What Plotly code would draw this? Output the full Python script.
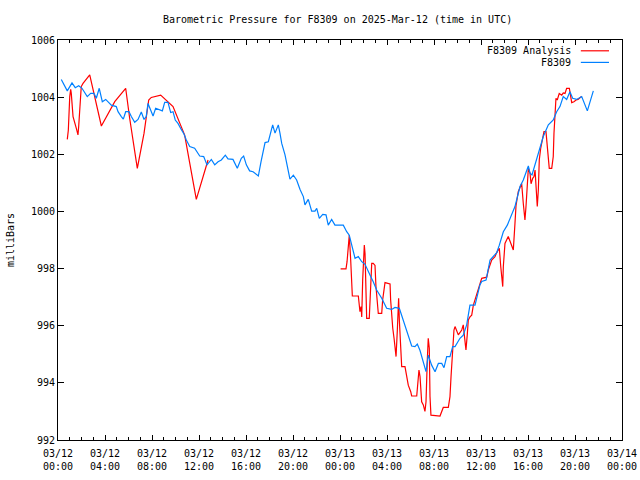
import pandas as pd
import plotly.graph_objects as go

START = pd.Timestamp("2025-03-12 00:00")

# F8309 observed (blue) : hours since 2025-03-12 00:00 UTC, pressure (mb)
obs_hours = [0.28, 0.79, 1.19, 1.47, 1.76, 2.04, 2.49, 2.78, 3.06, 3.26, 3.51, 3.77, 4.06, 4.54, 4.96,
             5.11, 5.39, 5.56, 5.76, 6.04, 6.24, 6.53, 6.81, 7.09, 7.32, 7.51, 7.66, 7.86, 8.09, 8.31,
             8.66, 8.88, 9.08, 9.36, 9.59, 9.79, 9.98, 10.21, 10.49, 10.72, 10.92, 11.21, 11.63, 12.06,
             12.40, 12.68, 13.05, 13.34, 13.62, 13.90, 14.24, 14.47, 14.89, 15.26, 15.60, 15.80, 16.03,
             16.31, 16.60, 16.96, 17.05, 17.28, 17.47, 17.62, 17.90, 18.04, 18.27, 18.47, 18.75, 18.89,
             19.04, 19.32, 19.51, 19.74, 20.03, 20.31, 20.60, 20.88, 21.02, 21.30, 21.59, 21.87, 22.02,
             22.24, 22.53, 22.81, 23.00, 23.29, 23.57, 24.28, 24.57, 24.79, 25.00, 25.28, 25.56, 25.85,
             26.13, 26.27, 26.61, 26.83, 27.12, 27.55, 27.97, 28.40, 28.68, 29.05, 29.34, 29.73, 30.10,
             30.38, 30.58, 30.81, 31.04, 31.32, 31.51, 31.80, 32.09, 32.37, 32.66, 32.85, 33.08, 33.36,
             33.59, 33.79, 34.21, 34.49, 34.78, 35.06, 35.49, 35.63, 35.91, 36.06, 36.43, 36.77, 37.05,
             37.34, 37.56, 37.90, 38.24, 38.61, 38.89, 39.32, 39.60, 40.03, 40.17, 40.34, 40.68, 41.02,
             41.30, 41.73, 42.15, 42.44, 42.72, 43.00, 43.29, 43.57, 43.80, 44.14, 44.57, 45.05, 45.34,
             45.56]
obs_mb = [1004.62, 1004.22, 1004.50, 1004.33, 1004.40, 1004.31, 1004.02, 1004.13, 1004.13, 1003.96,
          1004.31, 1003.84, 1003.92, 1003.72, 1003.67, 1003.49, 1003.32, 1003.23, 1003.49, 1003.49,
          1003.32, 1003.12, 1003.22, 1003.48, 1003.22, 1003.32, 1003.78, 1003.55, 1003.34, 1003.61,
          1003.57, 1003.52, 1003.82, 1003.82, 1003.46, 1003.49, 1003.20, 1003.08, 1002.87, 1002.71,
          1002.50, 1002.27, 1002.21, 1001.94, 1001.92, 1001.63, 1001.82, 1001.63, 1001.74, 1001.80,
          1001.97, 1001.84, 1001.82, 1001.51, 1001.86, 1001.94, 1001.63, 1001.42, 1001.39, 1001.26,
          1001.24, 1001.74, 1002.15, 1002.41, 1002.44, 1002.68, 1003.03, 1002.74, 1003.03, 1002.74,
          1002.38, 1001.98, 1001.56, 1001.13, 1001.27, 1001.10, 1000.77, 1000.52, 1000.23, 1000.42,
          1000.01, 1000.01, 1000.11, 999.76, 999.90, 999.88, 999.52, 999.72, 999.52, 999.52,
          999.29, 999.17, 998.82, 998.36, 998.42, 998.24, 998.15, 998.01, 997.72, 997.54,
          997.25, 996.96, 996.61, 996.57, 996.64, 996.61, 996.26, 995.79, 995.29, 995.27,
          995.36, 995.13, 994.80, 994.39, 994.97, 994.62, 994.39, 994.68, 994.68, 994.53,
          994.92, 994.92, 995.27, 995.27, 995.56, 995.67, 996.03, 996.72, 996.72, 996.96,
          997.43, 997.55, 997.60, 998.30, 998.42, 998.56, 998.82, 999.29, 999.52, 999.93,
          1000.17, 1000.87, 1001.10, 1001.59, 1001.34, 1001.28, 1001.74, 1002.27, 1002.62, 1003.03,
          1003.20, 1003.49, 1003.67, 1004.02, 1003.92, 1004.19, 1003.96, 1003.92, 1004.02, 1003.52,
          1003.90, 1004.22]

# F8309 Analysis (red); None marks the data gap
ana_hours = [0.79, 0.88, 1.00, 1.08, 1.13, 1.28, 1.56, 1.70, 1.76, 1.85, 1.98, 2.13, 2.70, 3.69, 4.83,
             5.76, 6.10, 6.75, 7.32, 7.72, 7.94, 8.74, 9.79, 10.78, 11.77, 12.77, 18.00,
             24.05, 24.51, 24.60, 24.71, 24.79, 24.91, 25.00, 25.05, 25.56, 25.64, 25.70, 25.79, 25.85,
             25.93, 25.98, 26.07, 26.13, 26.21, 26.27, 26.49, 26.55, 26.61, 26.70, 26.83, 26.98, 27.06,
             27.17, 27.26, 27.55, 27.63, 27.83, 28.11, 28.26, 28.31, 28.40, 28.49, 28.60, 28.68, 28.77,
             28.88, 28.99, 29.05, 29.17, 29.25, 29.53, 29.62, 29.73, 29.81, 30.02, 30.10, 30.53, 30.61,
             30.72, 30.81, 30.95, 31.09, 31.23, 31.32, 31.38, 31.43, 31.51, 31.60, 31.66, 31.74, 32.51,
             32.66, 32.79, 33.22, 33.36, 33.45, 33.59, 33.70, 33.79, 33.93, 34.07, 34.36, 34.49, 34.58,
             34.72, 34.83, 34.92, 35.06, 35.21, 35.35, 35.63, 35.77, 35.91, 36.06, 36.49, 36.62, 36.91,
             37.19, 37.34, 37.56, 37.68, 37.76, 37.85, 37.90, 38.04, 38.32, 38.61, 38.75, 38.89, 38.98,
             39.17, 39.32, 39.46, 39.60, 39.74, 39.83, 39.94, 40.03, 40.17, 40.26, 40.40, 40.51, 40.60,
             40.68, 40.79, 40.88, 40.96, 41.08, 41.25, 41.36, 41.53, 41.64, 41.81, 42.02, 42.15, 42.21,
             42.30, 42.38, 42.49, 42.66, 42.87, 43.00, 43.15, 43.29, 43.52, 43.63, 43.72, 43.91, 44.09,
             44.26, 44.55]
ana_mb = [1002.52, 1002.85, 1004.02, 1004.27, 1004.13, 1003.32, 1002.91, 1002.68, 1002.97, 1003.55,
          1004.37, 1004.48, 1004.78, 1002.99, 1003.84, 1004.31, 1003.26, 1001.51, 1002.73, 1003.90,
          1003.99, 1004.07, 1003.67, 1002.67, 1000.42, 1001.80, None,
          997.99, 997.99, 998.24, 998.82, 999.17, 998.30, 997.43, 997.04, 997.04, 996.79,
          996.49, 996.67, 996.31, 997.60, 998.18, 998.82, 998.53, 997.48, 996.26, 996.26,
          996.84, 997.37, 998.18, 998.18, 998.11, 997.37, 996.84, 996.43, 996.43, 996.90,
          997.51, 997.49, 997.46, 996.90, 996.26, 995.91, 995.56, 995.21, 994.92, 995.85,
          996.96, 996.20, 995.03, 994.57, 994.57, 994.39, 994.16, 993.92, 993.69, 993.54,
          993.54, 993.99, 994.45, 994.22, 993.34, 993.23, 993.00, 993.34, 994.57, 994.80,
          995.56, 995.21, 993.52, 992.87, 992.84, 992.99, 993.14, 993.14, 993.52, 994.22,
          995.21, 995.85, 995.97, 995.85, 995.68, 995.85, 996.03, 995.68, 995.15, 995.68,
          996.20, 996.31, 996.37, 996.72, 997.07, 997.25, 997.43, 997.66, 997.70, 997.95,
          998.30, 998.42, 998.56, 998.71, 998.07, 997.60, 997.37, 998.07, 998.88, 999.12,
          998.82, 998.65, 999.58, 1000.20, 1000.69, 1000.87, 1000.98, 1000.28, 999.70, 1000.17,
          1001.10, 1001.51, 1001.34, 1000.97, 1001.16, 1001.22, 1001.45, 1000.87, 1000.17, 1000.75,
          1001.80, 1002.21, 1002.56, 1002.79, 1002.79, 1002.21, 1001.51, 1001.51, 1001.92, 1002.73,
          1003.55, 1003.96, 1003.90, 1004.13, 1004.07, 1004.15, 1004.13, 1004.31, 1004.31, 1004.07,
          1003.81, 1003.84, 1003.90, 1003.92, 1004.02]

series_names = ["F8309 Analysis", "F8309"]
series_colors = ["#ff0000", "#0080ff"]

obs_t = START + pd.to_timedelta(obs_hours, unit="h")
ana_t = START + pd.to_timedelta(ana_hours, unit="h")

FONT = "DejaVu Sans Mono"

fig = go.Figure()
fig.add_trace(go.Scatter(x=ana_t, y=ana_mb, mode="lines", name=series_names[0],
                         line=dict(color=series_colors[0], width=1.2), connectgaps=False))
fig.add_trace(go.Scatter(x=obs_t, y=obs_mb, mode="lines", name=series_names[1],
                         line=dict(color=series_colors[1], width=1.2)))

fig.update_layout(
    width=640, height=480,
    margin=dict(l=58, r=18, t=40, b=40, autoexpand=False),
    paper_bgcolor="white", plot_bgcolor="white",
    showlegend=False,
    font=dict(family=FONT, size=10, color="black"),
)
fig.update_xaxes(
    type="date",
    range=[START, START + pd.Timedelta(hours=48)],
    dtick=4 * 3600000, tick0=START,
    tickformat="%m/%d<br>%H:%M",
    ticks="inside", ticklen=5, tickcolor="black",
    minor=dict(dtick=3600000, ticks="inside", ticklen=3, tickcolor="black"),
    showline=True, linecolor="black", linewidth=1, mirror="allticks",
    showgrid=False, zeroline=False, automargin=False,
    ticklabelstandoff=4,
    tickfont=dict(family=FONT, size=10),
)
fig.update_yaxes(
    range=[992, 1006], dtick=2, tick0=992,
    ticks="inside", ticklen=6, tickcolor="black",
    showline=True, linecolor="black", linewidth=1, mirror="allticks",
    showgrid=False, zeroline=False, automargin=False,
    tickfont=dict(family=FONT, size=10),
)

fig.add_annotation(text="Barometric Pressure for F8309 on 2025-Mar-12 (time in UTC)",
                   xref="paper", yref="paper", x=0.495, y=1.0525, showarrow=False,
                   xanchor="center", yanchor="middle", font=dict(family=FONT, size=10))
fig.add_annotation(text="milliBars", xref="paper", yref="paper", x=-0.085, y=0.5,
                   textangle=-90, showarrow=False, xanchor="center", yanchor="middle",
                   font=dict(family=FONT, size=10))

# key (gnuplot style: label then sample line)
key_y = [0.973, 0.944]
for name, color, ky in zip(series_names, series_colors, key_y):
    fig.add_annotation(text=name, xref="paper", yref="paper", x=0.913, y=ky,
                       showarrow=False, xanchor="right", yanchor="middle",
                       font=dict(family=FONT, size=10))
    fig.add_shape(type="line", xref="paper", yref="paper", x0=0.927, x1=0.977, y0=ky, y1=ky,
                  line=dict(color=color, width=1.2))

fig.write_html("out.html", config={"displayModeBar": False},
               post_script="document.body.style.margin='0';")
